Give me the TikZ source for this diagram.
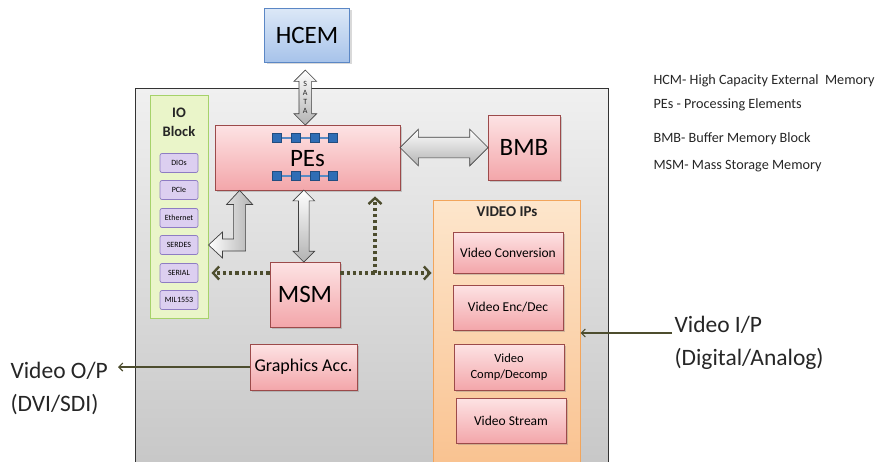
\documentclass[tikz,border=0pt]{standalone}
\usepackage{fontspec}
\setmainfont{Carlito}
\usepackage{xcolor}
\usetikzlibrary{arrows.meta,positioning,calc,shapes.arrows,shadows}

\definecolor{pinkline}{HTML}{9C4A4A}
\definecolor{pinktop}{HTML}{FDE3E4}
\definecolor{pinkbot}{HTML}{F3A6AA}
\definecolor{bluetop}{HTML}{DCE8F7}
\definecolor{bluebot}{HTML}{A7C3EA}
\definecolor{blueline}{HTML}{5B87C5}
\definecolor{greenfill}{HTML}{EAF5C9}
\definecolor{greenline}{HTML}{A6D26A}
\definecolor{lavfill}{HTML}{DCCFF0}
\definecolor{lavline}{HTML}{8E7CC3}
\definecolor{orangetop}{HTML}{FDE6CC}
\definecolor{orangebot}{HTML}{F9C18E}
\definecolor{orangeline}{HTML}{F2A55C}
\definecolor{graytop}{HTML}{F0F0F0}
\definecolor{graybot}{HTML}{C6C6C6}
\definecolor{olive}{HTML}{4D4D2E}
\definecolor{chipblue}{HTML}{2F6DB5}

\begin{document}
\begin{tikzpicture}[
    x=1pt,y=-1pt,
    >=Latex,
    pinkbox/.style={
        draw=pinkline, line width=0.8pt,
        top color=pinktop, bottom color=pinkbot,
        inner sep=0pt, align=center,
        drop shadow={shadow xshift=2pt, shadow yshift=-2pt, opacity=0.35}
    },
    bluebox/.style={
        draw=blueline, line width=0.8pt,
        top color=bluetop, bottom color=bluebot,
        inner sep=0pt, drop shadow={shadow xshift=2pt, shadow yshift=-2pt, opacity=0.3}
    },
    iobox/.style={
        draw=lavline, line width=0.7pt, fill=lavfill, rounded corners=2pt,
        minimum width=38, minimum height=19, inner sep=0pt,
        font=\fontsize{8}{9}\selectfont
    },
    vidbox/.style={pinkbox, minimum width=110, font=\fontsize{13.5}{15}\selectfont},
    blockarrow/.style={
        draw=black!75, line width=0.7pt,
        top color=white, bottom color=black!30, inner xsep=0pt,
        double arrow head indent=0pt
    },
    dotarrow/.style={
        draw=olive, line width=3.4pt, dash pattern=on 3.2pt off 3pt,
        -{Straight Barb[length=6pt,width=13pt,line width=2.4pt]}
    },
    ioarrow/.style={draw=olive, line width=1.1pt, -{Straight Barb[length=4pt,width=8pt]}},
    bigtext/.style={font=\fontsize{25}{27}\selectfont},
    sidetext/.style={font=\fontsize{23.5}{33}\selectfont, align=left, text=black!85},
    legend/.style={font=\fontsize{14.2}{16}\selectfont, anchor=west, text=black!85}
]
\useasboundingbox (0,0) rectangle (885,461);
\clip (0,0) rectangle (885,461);

% ===== board =====
\node[draw=black!80, line width=0.8pt, top color=graytop, bottom color=graybot,
      minimum width=473, minimum height=390, inner sep=0pt] (board) at (371.5,283) {};

% ===== main blocks =====
\node[bluebox, minimum width=85, minimum height=54, bigtext] (hcem) at (307,35) {HCEM};
\node[pinkbox, minimum width=185, minimum height=65] (pes) at (307.5,157.5) {};
\node[bigtext] at ([yshift=-1pt]pes.center) {PEs};
\node[pinkbox, minimum width=72, minimum height=65, bigtext] (bmb) at (524,147.5) {BMB};
\node[pinkbox, minimum width=70, minimum height=65, bigtext] (msm) at (305,294.5) {MSM};
\node[pinkbox, minimum width=107, minimum height=46, font=\fontsize{18}{20}\selectfont] (gacc) at (303.5,367) {Graphics Acc.};

% processing element chips
\foreach \yy in {138,176} {
  \draw[chipblue!80, line width=1.2pt] (277,\yy) -- (333,\yy);
  \foreach \xx in {277,295.7,314.3,333}
    \node[fill=chipblue, draw=chipblue!70!black, line width=0.4pt, minimum size=9, inner sep=0pt] at (\xx,\yy) {};
}

% ===== IO block =====
\node[draw=greenline, line width=1pt, fill=greenfill, minimum width=58, minimum height=223, inner sep=0pt] (ioblk) at (179,206.5) {};
\node[font=\fontsize{14.5}{19}\selectfont\bfseries, align=center, text=black!85] at (179,122) {IO\\Block};
\foreach \lbl/\yy [count=\i] in {DIOs/163,PCIe/190,Ethernet/218,SERDES/245,SERIAL/273,MIL1553/300}
  \node[iobox] (io\i) at (179,\yy) {\lbl};

% ===== video IPs =====
\node[draw=orangeline, line width=1pt, top color=orangetop, bottom color=orangebot,
      minimum width=147, minimum height=275, inner sep=0pt] (vidips) at (506.5,337.5) {};
\node[font=\fontsize{15}{16}\selectfont\bfseries, text=black!85] at (507,212) {VIDEO IPs};
\node[vidbox, minimum height=41] (vconv) at (508,252.5) {Video Conversion};
\node[vidbox, minimum height=45] (venc) at (508,307.5) {Video Enc/Dec};
\node[vidbox, minimum height=46, font=\fontsize{12.5}{16}\selectfont] (vcomp) at (509,367) {Video\\Comp/Decomp};
\node[vidbox, minimum height=45] (vstream) at (511,420.5) {Video Stream};

% ===== block arrows =====
\node[blockarrow, double arrow, rotate=90, minimum height=55, minimum width=22,
      inner ysep=6pt, double arrow head extend=5pt] (sata) at ($(hcem.south)!0.5!(pes.north)+(-2,4)$) {};
\node[font=\fontsize{8}{9}\selectfont, align=center, text=black!85] at (sata.center) {S\\A\\T\\A};
\node[blockarrow, double arrow, minimum height=88, minimum width=36,
      inner ysep=10pt, double arrow head extend=8pt]
      (pesbmb) at ($(pes.east)!0.5!(bmb.west)+(0,-5)$) {};
\node[blockarrow, double arrow, rotate=90, minimum height=72, minimum width=21,
      inner ysep=5pt, double arrow head extend=5.5pt] (pesmsm) at ($(pes.south)!0.5!(msm.north)+(-2.5,0)$) {};

% elbow arrow PEs -> SERDES
\coordinate (eT) at ($(pes.south west)+(25,0)$);
\coordinate (eL) at ($(ioblk.east)+(0,38.5)$);
\coordinate (eC) at (eT |- eL);
\draw[blockarrow, left color=white, right color=black!30]
  (eT) -- ($(eT)+(13,14)$) -- ($(eT)+(6,14)$) -- ($(eC)+(6,6)$)
  -- ($(eL)+(14,6)$) -- ($(eL)+(14,13)$) -- (eL) -- ($(eL)+(14,-13)$)
  -- ($(eL)+(14,-6)$) -- ($(eC)+(-6,-6)$) -- ($(eT)+(-6,14)$) -- ($(eT)+(-13,14)$) -- cycle;

% ===== dotted links from MSM =====
\coordinate (dotL) at ([yshift=21.5pt]msm.west);
\coordinate (dotR) at ([yshift=21.5pt]msm.east);
\coordinate (dotV) at (375,273);
\draw[dotarrow] (dotL) -- ($(dotL -| ioblk.east)+(3,0)$);
\draw[dotarrow] (dotR) -- ($(dotR -| vidips.west)+(-1,0)$);
\draw[dotarrow, shorten >=6pt] (dotV) -- (dotV |- pes.south);

% ===== video in / out =====
\coordinate (vout) at (118,367);
\draw[ioarrow] (gacc.west) -- (vout);
\node[sidetext, anchor=west] at (7,388) {Video O/P\\(DVI/SDI)};

\coordinate (vin) at (672,333);
\draw[ioarrow] (vin) -- (vin -| vidips.east);
\node[sidetext, anchor=west] at (671,343) {Video I/P\\(Digital/Analog)};

% ===== legend =====
\node[legend] at (650,81) {HCM- High Capacity External\ \ Memory};
\node[legend] at (650,105) {PEs - Processing Elements};
\node[legend] at (650,139) {BMB- Buffer Memory Block};
\node[legend] at (650,166) {MSM- Mass Storage Memory};
\end{tikzpicture}
\end{document}
